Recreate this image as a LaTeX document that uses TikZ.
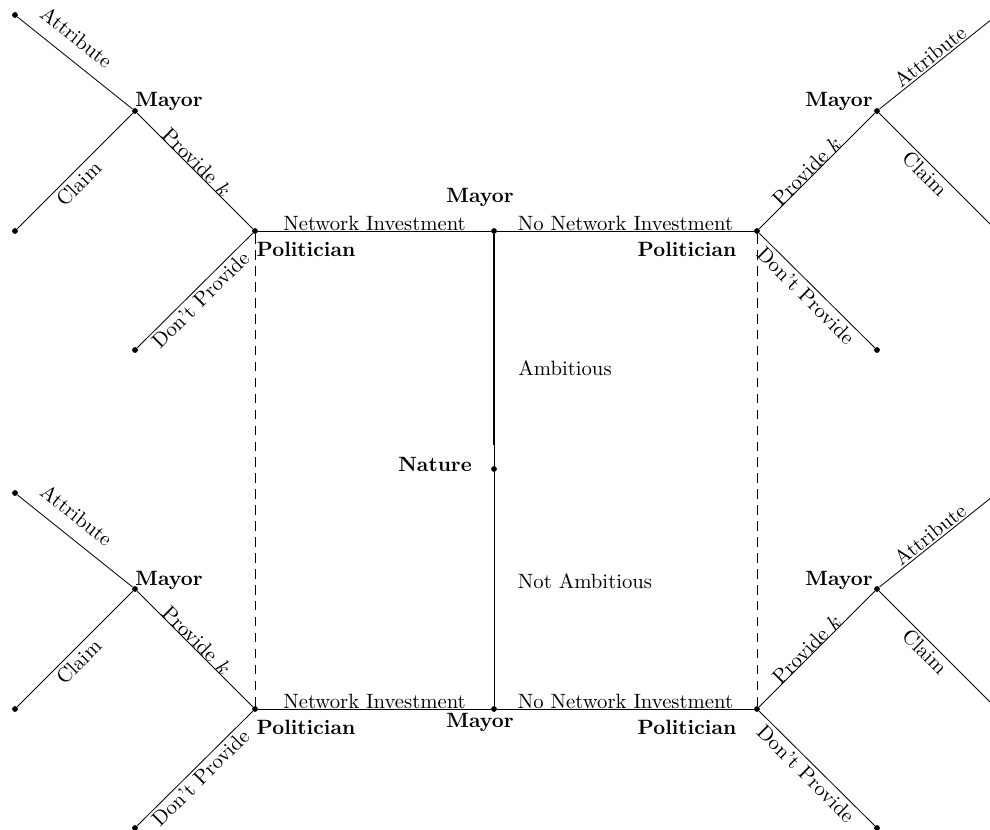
\documentclass[tikz,border=0pt]{standalone}
\begin{document}
\begin{tikzpicture}[x=0.483pt,y=-0.483pt,
  dot/.style={circle,fill=black,inner sep=0pt,minimum size=2.8pt},
  player/.style={font=\bfseries,inner sep=0pt},
  plain/.style={inner sep=0pt},
  elab/.style={sloped,inner sep=0pt},
  ab/.style={elab,anchor=south,outer sep=#1},
  be/.style={elab,anchor=north,outer sep=#1},
  hlab/.style={anchor=south,inner sep=0pt,yshift=-0.3pt},
  infoset/.style={dash pattern=on 4.6pt off 3.1pt}
]
\clip (0,0) rectangle (990,830);
% main nodes
\node[dot] (N) at (494,469) {};
\node[dot] (MT) at (494,231) {};
\node[dot] (MB) at (494,709) {};
\node[dot] (P1) at (255,231) {};
\node[dot] (P2) at (757,231) {};
\node[dot] (P3) at (255,709) {};
\node[dot] (P4) at (757,709) {};
\node[dot] (M1) at (135,111) {};
\node[dot] (M2) at (877,111) {};
\node[dot] (M3) at (135,589) {};
\node[dot] (M4) at (877,589) {};
% terminals
\node[dot] (A1) at (15,15) {};
\node[dot] (C1) at (15,231) {};
\node[dot] (D1) at (135,350) {};
\node[dot] (A2) at (997,15) {};
\node[dot] (C2) at (997,231) {};
\node[dot] (D2) at (877,350) {};
\node[dot] (A3) at (15,493) {};
\node[dot] (C3) at (15,709) {};
\node[dot] (D3) at (135,828) {};
\node[dot] (A4) at (997,493) {};
\node[dot] (C4) at (997,709) {};
\node[dot] (D4) at (877,828) {};
\coordinate (thk) at (494,445);
% nature moves
\draw (N) -- (MT);
\draw (N) -- (MB);
\draw[line width=0.8pt] (MT) -- (thk);
% mayor investment moves
\draw (MT) -- node[hlab]{Network Investment} (P1);
\draw (MT) -- node[hlab]{No Network Investment} (P2);
\draw (MB) -- node[hlab]{Network Investment} (P3);
\draw (MB) -- node[hlab]{No Network Investment} (P4);
% information sets
\draw[infoset] (P1) -- (P3);
\draw[infoset] (P2) -- (P4);
% top-left subgame
\draw (P1) -- node[ab=0pt,pos=0.53]{Provide $k$} (M1);
\draw (P1) -- node[be=1.5pt,pos=0.515]{Don't Provide} (D1);
\draw (M1) -- node[ab=6.5pt,pos=0.6]{Attribute} (A1);
\draw (M1) -- node[be=2pt,pos=0.54]{Claim} (C1);
% top-right subgame
\draw (P2) -- node[ab=0pt,pos=0.455]{Provide $k$} (M2);
\draw (P2) -- node[be=2pt,pos=0.475]{Don't Provide} (D2);
\draw (M2) -- node[ab=1pt,pos=0.49]{Attribute} (A2);
\draw (M2) -- node[be=1.5pt,pos=0.46]{Claim} (C2);
% bottom-left subgame
\draw (P3) -- node[ab=0pt,pos=0.53]{Provide $k$} (M3);
\draw (P3) -- node[be=1.5pt,pos=0.515]{Don't Provide} (D3);
\draw (M3) -- node[ab=6.5pt,pos=0.6]{Attribute} (A3);
\draw (M3) -- node[be=2pt,pos=0.54]{Claim} (C3);
% bottom-right subgame
\draw (P4) -- node[ab=0pt,pos=0.455]{Provide $k$} (M4);
\draw (P4) -- node[be=2pt,pos=0.475]{Don't Provide} (D4);
\draw (M4) -- node[ab=1pt,pos=0.49]{Attribute} (A4);
\draw (M4) -- node[be=1.5pt,pos=0.46]{Claim} (C4);
% player labels
\node[player] (lMT) at (480,197) {Mayor};
\node[player] (lMB) at (480,722) {Mayor};
\node[player] (lN) at (435,464) {Nature};
\node[player] (lP1) at (306,249) {Politician};
\node[player] (lP2) at (687,249) {Politician};
\node[player] (lP3) at (306,727) {Politician};
\node[player] (lP4) at (687,727) {Politician};
\node[player] (lM1) at (169,101) {Mayor};
\node[player] (lM2) at (839,101) {Mayor};
\node[player] (lM3) at (169,580) {Mayor};
\node[player] (lM4) at (839,580) {Mayor};
% nature move labels
\node[plain] (lAmb) at (565,368) {Ambitious};
\node[plain] (lNAmb) at (585,581) {Not Ambitious};
\end{tikzpicture}
\end{document}
